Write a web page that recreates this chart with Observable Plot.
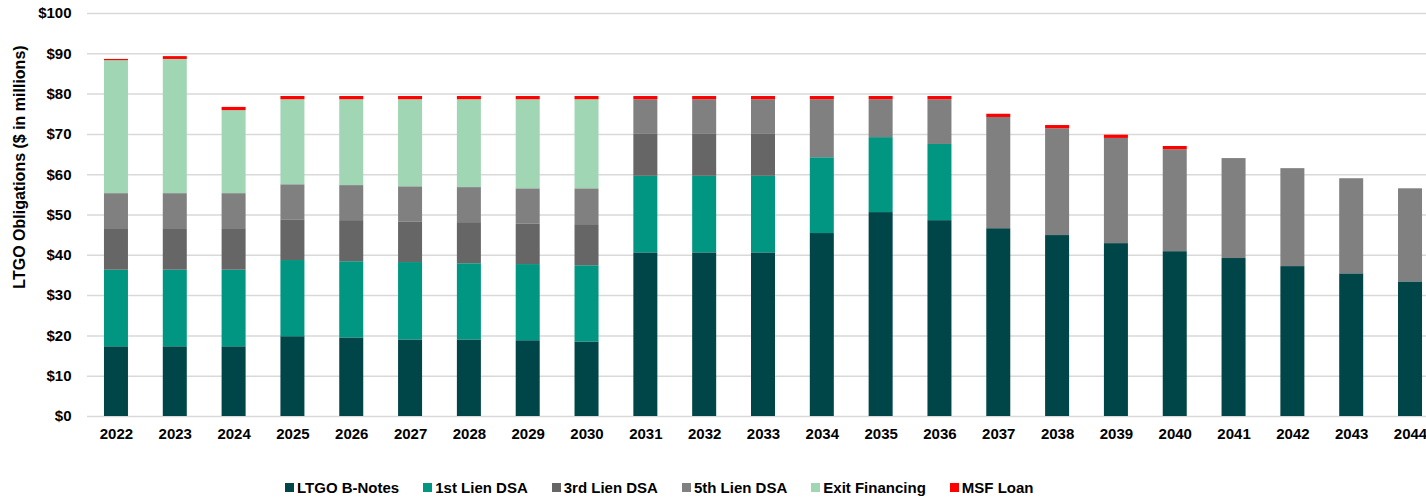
<!DOCTYPE html>
<html>
<head>
<meta charset="utf-8">
<script src="https://cdn.jsdelivr.net/npm/d3@7"></script>
<script src="https://cdn.jsdelivr.net/npm/@observablehq/plot@0.6"></script>
<style>
  html, body { margin: 0; padding: 0; background: #fff; overflow: hidden; }
  #wrap { position: relative; width: 1426px; height: 498px; font-family: "Liberation Sans", Arial, sans-serif; }
  #ytitle { position: absolute; left: 20px; top: 167px; transform: translate(-50%, -50%) rotate(-90deg); white-space: nowrap; font-weight: bold; font-size: 16px; color: #000; }
  #legend { position: absolute; left: 285px; top: 479px; display: flex; align-items: center; font-weight: bold; font-size: 15px; color: #000; white-space: nowrap; }
  #legend .item { display: flex; align-items: center; margin-right: 24px; }
  #legend .sw { width: 9px; height: 9px; margin-right: 3px; }
</style>
</head>
<body>
<div id="wrap">
  <div id="chart"></div>
  <div id="ytitle">LTGO Obligations ($ in millions)</div>
  <div id="legend"></div>
</div>
<script>
const years = ["2022","2023","2024","2025","2026","2027","2028","2029","2030","2031","2032","2033","2034","2035","2036","2037","2038","2039","2040","2041","2042","2043","2044"];
const seriesNames = ["LTGO B-Notes","1st Lien DSA","3rd Lien DSA","5th Lien DSA","Exit Financing","MSF Loan"];
const seriesColors = ["#004547","#009681","#666666","#808080","#a0d6b4","#ff0000"];
const bNotes   = [17.3,17.3,17.3,19.8,19.5,19.0,19.0,18.8,18.5,40.6,40.6,40.6,45.4,50.6,48.6,46.6,44.9,42.9,40.9,39.2,37.2,35.4,33.4];
const lien1    = [19.0,19.0,19.0,18.9,18.9,19.2,18.9,18.9,18.9,19.0,19.0,19.0,18.8,18.6,18.9,0,0,0,0,0,0,0,0];
const lien3    = [10.1,10.1,10.1,10.1,10.2,10.1,10.2,10.1,10.2,10.4,10.4,10.4,0,0,0,0,0,0,0,0,0,0,0];
const lien5    = [8.9,8.9,8.9,8.7,8.7,8.7,8.7,8.7,8.9,8.6,8.6,8.6,14.4,9.4,11.1,27.6,26.5,26.1,25.3,24.8,24.3,23.6,23.1];
const exitFin  = [33.0,33.3,20.6,21.1,21.3,21.6,21.8,22.1,22.1,0,0,0,0,0,0,0,0,0,0,0,0,0,0];
const msfLoan  = [0.3,0.7,0.8,0.8,0.8,0.8,0.8,0.8,0.8,0.8,0.8,0.8,0.8,0.8,0.8,0.8,0.8,0.8,0.8,0,0,0,0];
const yTicks = [0,10,20,30,40,50,60,70,80,90,100];

const seriesValues = [bNotes, lien1, lien3, lien5, exitFin, msfLoan];
const data = seriesNames.flatMap((s, si) => years.map((yr, i) => ({year: yr, series: s, value: seriesValues[si][i]})));

const chart = Plot.plot({
  width: 1426,
  height: 456,
  marginTop: 13,
  marginBottom: 40,
  marginLeft: 87,
  marginRight: 0,
  style: {fontFamily: "'Liberation Sans', Arial, sans-serif", fontSize: "15px", fontWeight: "bold", color: "#000", background: "#fff"},
  x: {domain: years, paddingInner: 0.592, paddingOuter: 0.178, align: 0.81, round: false, label: null, tickSize: 0, tickPadding: 12},
  y: {domain: [0, 100], ticks: yTicks, label: null, tickSize: 0, tickPadding: 16, tickFormat: d => "$" + d},
  color: {domain: seriesNames, range: seriesColors},
  marks: [
    Plot.ruleY(yTicks, {stroke: "#d9d9d9", strokeWidth: 1.5}),
    Plot.barY(data, {x: "year", y: "value", fill: "series", z: "series", order: seriesNames})
  ]
});
document.getElementById("chart").appendChild(chart);

const legend = document.getElementById("legend");
seriesNames.forEach((s, i) => {
  const item = document.createElement("div");
  item.className = "item";
  const sw = document.createElement("span");
  sw.className = "sw";
  sw.style.background = seriesColors[i];
  const t = document.createElement("span");
  t.textContent = s;
  item.appendChild(sw);
  item.appendChild(t);
  legend.appendChild(item);
});
</script>
</body>
</html>
